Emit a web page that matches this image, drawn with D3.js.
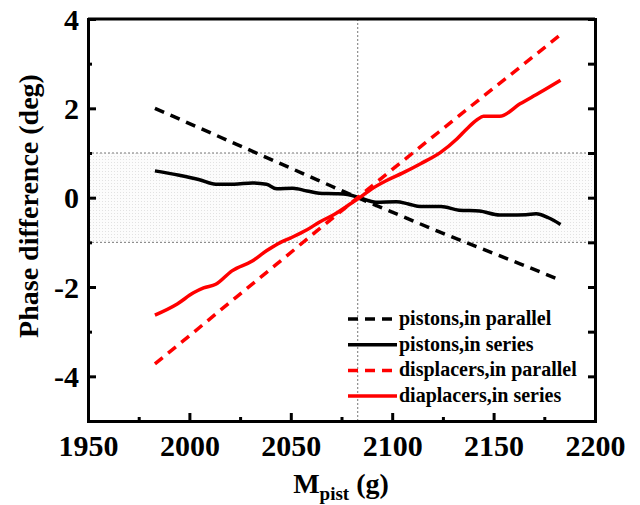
<!DOCTYPE html>
<html>
<head>
<meta charset="utf-8">
<script src="https://cdn.jsdelivr.net/npm/d3@7"></script>
<style>
body { margin: 0; background: #fff; }
svg text { font-family: "Liberation Serif", "Times New Roman", serif; font-weight: bold; }
</style>
</head>
<body>
<div class="displayArea"></div>
<script>
// masses (g) and phase differences (deg)
var massDashed = [1983, 2003, 2023, 2043, 2063, 2083, 2103, 2123, 2143, 2163, 2183];
var pistParallel = [2.0, 1.6, 1.2, 0.8, 0.4, 0.0, -0.38, -0.76, -1.12, -1.48, -1.85];
var dispParallel = [-3.72, -2.98, -2.23, -1.49, -0.74, 0.0, 0.74, 1.47, 2.2, 2.92, 3.65];

var massPistSeries = [1983, 1995, 2005, 2013, 2022, 2031, 2038, 2043, 2051, 2058, 2064, 2072, 2078, 2084, 2092, 2102, 2108, 2114, 2124, 2133, 2143, 2153, 2166, 2171, 2177, 2183];
var pistSeries = [0.6, 0.5, 0.4, 0.3, 0.3, 0.33, 0.3, 0.2, 0.21, 0.15, 0.1, 0.09, 0.07, 0.0, -0.1, -0.09, -0.14, -0.2, -0.2, -0.28, -0.3, -0.39, -0.38, -0.36, -0.45, -0.6];

var massDispSeries = [1983, 1994, 2002, 2007, 2013, 2021, 2031, 2038, 2045, 2050, 2058, 2064, 2072, 2078, 2084, 2090, 2097, 2105, 2114, 2124, 2132, 2137, 2142, 2145, 2153, 2163, 2173, 2183];
var dispSeries = [-2.63, -2.38, -2.13, -2.02, -1.94, -1.64, -1.42, -1.19, -1.0, -0.9, -0.72, -0.55, -0.36, -0.18, 0.0, 0.2, 0.38, 0.55, 0.76, 1.02, 1.32, 1.55, 1.75, 1.82, 1.82, 2.1, 2.36, 2.63];

var xTicks = [1950, 2000, 2050, 2100, 2150, 2200];
var yTicks = [-4, -2, 0, 2, 4];
var vLine = 2083;
var band = [-1, 1];

var legendNames = ["pistons,in parallel", "pistons,in series", "displacers,in parallel", "diaplacers,in series"];
var legendColors = ["#000", "#000", "#ff0000", "#ff0000"];
var legendDash = [true, false, true, false];

var width = 640, height = 505;
var mLeft = 88, mRight = 595, mTop = 19, mBottom = 421; // plot frame

var xScale = d3.scaleLinear().domain([1950, 2200]).range([mLeft, mRight]);
var yScale = d3.scaleLinear().domain([-5, 4]).range([mBottom, mTop]);

var svg = d3.select(".displayArea").append("svg")
    .attr("width", width)
    .attr("height", height);

// dotted texture for the +-1 deg band
var defs = svg.append("defs");
var pat = defs.append("pattern")
    .attr("id", "dots")
    .attr("patternUnits", "userSpaceOnUse")
    .attr("width", 3).attr("height", 3);
pat.append("rect").attr("width", 3).attr("height", 3).attr("fill", "#fcfcfc");
pat.append("rect").attr("width", 1).attr("height", 1).attr("fill", "#e2e2e2");

svg.append("rect")
    .attr("x", mLeft)
    .attr("y", yScale(band[1]))
    .attr("width", mRight - mLeft)
    .attr("height", yScale(band[0]) - yScale(band[1]))
    .attr("fill", "url(#dots)");

band.forEach(function (b) {
    svg.append("line")
        .attr("x1", mLeft).attr("x2", mRight)
        .attr("y1", yScale(b)).attr("y2", yScale(b))
        .attr("stroke", "#777").attr("stroke-width", 1)
        .attr("stroke-dasharray", "2,2");
});
svg.append("line")
    .attr("x1", xScale(vLine)).attr("x2", xScale(vLine))
    .attr("y1", mTop).attr("y2", mBottom)
    .attr("stroke", "#777").attr("stroke-width", 1)
    .attr("stroke-dasharray", "2,2");

// axes, ticks pointing inward
var xMinor = d3.range(1975, 2200, 50);
var yMinor = [-3, -1, 1, 3];

var xAxis = d3.axisBottom(xScale).tickValues(xTicks).tickSize(-8).tickPadding(14)
    .tickFormat(function (d) { return String(d); });
var gx = svg.append("g").attr("transform", `translate(0,${mBottom})`).call(xAxis);
svg.append("g").attr("transform", `translate(0,${mBottom})`)
    .call(d3.axisBottom(xScale).tickValues(xMinor).tickSize(-4).tickFormat(""));

var yAxis = d3.axisLeft(yScale).tickValues(yTicks).tickSize(-8).tickPadding(9)
    .tickFormat(function (d) { return String(d); }); // plain hyphen minus
var gy = svg.append("g").attr("transform", `translate(${mLeft},0)`).call(yAxis);
svg.append("g").attr("transform", `translate(${mLeft},0)`)
    .call(d3.axisLeft(yScale).tickValues(yMinor).tickSize(-4).tickFormat(""));

svg.append("g").attr("transform", `translate(${mRight},0)`)
    .call(d3.axisRight(yScale).tickValues(yTicks.concat(yMinor)).tickSize(-7).tickFormat(""));

svg.selectAll(".domain").attr("stroke", "#000").attr("stroke-width", 3);
svg.selectAll(".tick line").attr("stroke", "#000").attr("stroke-width", 3);
gx.selectAll("text").attr("font-size", 30).attr("fill", "#000")
    .attr("font-family", "Liberation Serif").attr("font-weight", "bold");
gy.selectAll("text").attr("font-size", 30).attr("fill", "#000")
    .attr("font-family", "Liberation Serif").attr("font-weight", "bold")
    .attr("dy", "0.34em");

// frame top
svg.append("line")
    .attr("x1", mLeft).attr("x2", mRight)
    .attr("y1", mTop).attr("y2", mTop)
    .attr("stroke", "#000").attr("stroke-width", 3);

// series
var line = d3.line()
    .x(function (d) { return xScale(d[0]); })
    .y(function (d) { return yScale(d[1]); })
    .curve(d3.curveMonotoneX);

function drawSeries(xs, ys, color, dash) {
    svg.append("path")
        .datum(xs.map(function (x, i) { return [x, ys[i]]; }))
        .attr("d", line)
        .attr("fill", "none")
        .attr("stroke", color)
        .attr("stroke-width", 3.5)
        .attr("stroke-linejoin", "round")
        .attr("stroke-dasharray", dash ? "10,7" : null);
}
drawSeries(massDashed, pistParallel, "#000", true);
drawSeries(massPistSeries, pistSeries, "#000", false);
drawSeries(massDashed, dispParallel, "#ff0000", true);
drawSeries(massDispSeries, dispSeries, "#ff0000", false);

// legend
var legend = svg.append("g").attr("transform", "translate(348,319)");
legendNames.forEach(function (name, i) {
    var row = legend.append("g").attr("transform", `translate(0,${i * 25.7})`);
    row.append("line")
        .attr("x1", 0).attr("x2", 49)
        .attr("stroke", legendColors[i])
        .attr("stroke-width", 3.5)
        .attr("stroke-dasharray", legendDash[i] ? "10,7" : null);
    row.append("text")
        .attr("x", 51).attr("y", 6)
        .attr("font-size", 20)
        .attr("fill", "#000")
        .text(name);
});

// axis titles
svg.append("text")
    .attr("transform", "translate(38,206) rotate(-90)")
    .attr("text-anchor", "middle")
    .attr("font-size", 28)
    .text("Phase difference (deg)");

var xt = svg.append("text")
    .attr("x", 341).attr("y", 493)
    .attr("text-anchor", "middle")
    .attr("font-size", 28);
xt.append("tspan").text("M");
xt.append("tspan").attr("font-size", 19).attr("dy", 7).text("pist");
xt.append("tspan").attr("dy", -7).text(" (g)");
</script>
</body>
</html>
